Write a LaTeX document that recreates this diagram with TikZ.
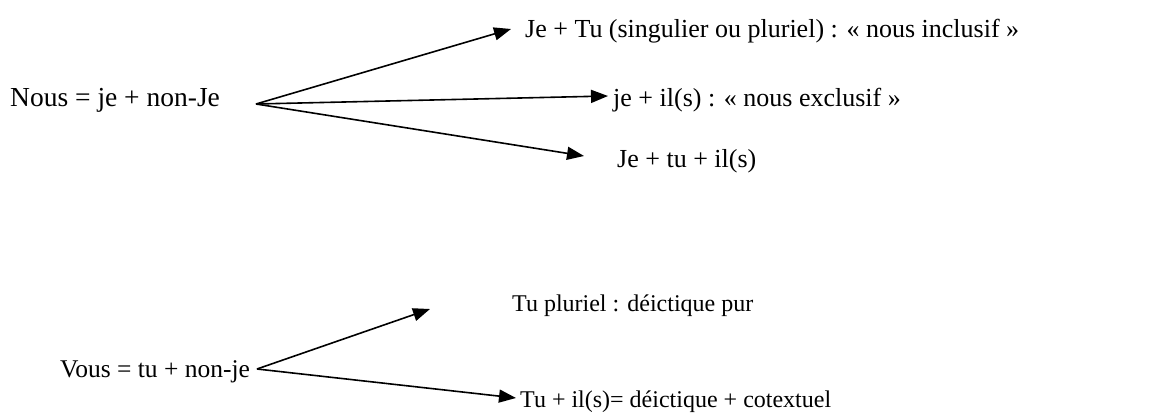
\documentclass[tikz,border=0pt]{standalone}
\usepackage{fontspec}
\setmainfont{Liberation Serif}
\usetikzlibrary{arrows.meta}
\tikzset{
  big/.style={anchor=base west,inner sep=0pt,font=\fontsize{26}{31}\selectfont},
  small/.style={anchor=base west,inner sep=0pt,font=\fontsize{24}{29}\selectfont},
  conn/.style={line width=1.6pt,-{Triangle[length=17pt,width=13pt]}},
}
\begin{document}
\begin{tikzpicture}[x=1pt,y=-1pt]
\useasboundingbox (0,0) rectangle (1149,414);
% top group
\node[big,font=\fontsize{27.5}{33}\selectfont] (nous) at (10,107) {Nous = je + non-Je};
\node[big] (incl) at (525,38) {Je + Tu (singulier ou pluriel) : «~nous inclusif~»};
\node[big] (excl) at (613,107) {je + il(s) : «~nous exclusif~»};
\node[big] (tous) at (617,168) {Je + tu + il(s)};
\coordinate (o1) at (256,104);
\coordinate (t1) at (511,29);
\coordinate (t2) at (608,96);
\coordinate (t3) at (584,156);
\draw[conn] (o1) -- (t1);
\draw[conn] (o1) -- (t2);
\draw[conn] (o1) -- (t3);
% bottom group
\node[small,font=\fontsize{25.5}{30}\selectfont] (vous) at (60,377) {Vous = tu + non-je};
\node[small] (pur) at (512,311) {Tu pluriel : déictique pur};
\node[small] (cot) at (520,407) {Tu + il(s)= déictique + cotextuel};
\coordinate (o2) at (257,369);
\coordinate (u1) at (430,309);
\coordinate (u2) at (516,398);
\draw[conn] (o2) -- (u1);
\draw[conn] (o2) -- (u2);
\end{tikzpicture}
\end{document}
